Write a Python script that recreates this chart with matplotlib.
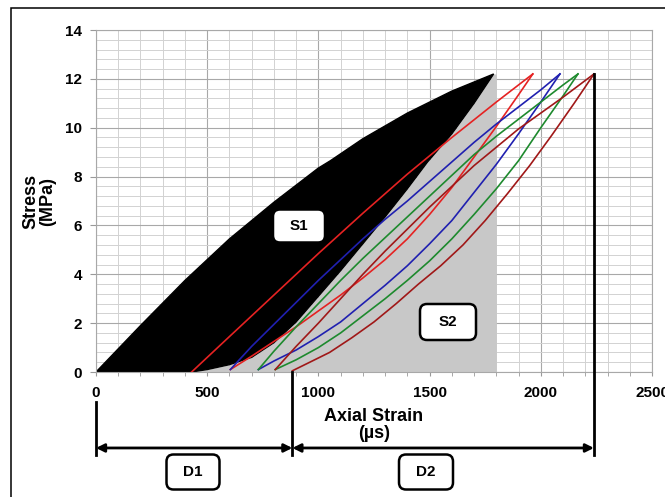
import matplotlib
matplotlib.use("Agg")
import matplotlib.pyplot as plt
import numpy as np
from matplotlib.patches import FancyBboxPatch, Rectangle
from matplotlib.transforms import IdentityTransform

plt.rcParams['font.family'] = ['Liberation Sans', 'DejaVu Sans']
plt.rcParams['font.weight'] = 'bold'

W, H = 665, 497

# ===== cycle data (axial strain in µs, stress in MPa) =====
# cycle 1 -> filled black loop
c1_load_x = [0, 200, 400, 600, 800, 1000, 1054, 1200, 1400, 1600, 1788]
c1_load_y = [0, 1.9, 3.75, 5.45, 6.95, 8.35, 8.65, 9.55, 10.6, 11.5, 12.2]
c1_unload_x = [1788, 1700, 1600, 1491, 1400, 1300, 1200, 1100, 1000, 900, 800,
               700, 600, 500, 430]
c1_unload_y = [12.2, 11.0, 9.75, 8.6, 7.5, 6.35, 5.25, 4.15, 3.1, 2.05, 1.2,
               0.6, 0.3, 0.1, 0]

red_load_x = [430, 600, 800, 1000, 1200, 1400, 1600, 1800, 1964]
red_load_y = [0, 1.45, 3.15, 4.85, 6.5, 8.1, 9.6, 11.05, 12.2]
red_unload_x = [1964, 1900, 1800, 1700, 1600, 1500, 1400, 1300, 1200, 1100,
                1000, 900, 800, 700, 604]
red_unload_y = [12.2, 11.35, 10.05, 8.8, 7.55, 6.45, 5.45, 4.6, 3.85, 3.15,
                2.5, 1.85, 1.25, 0.65, 0.1]

blue_load_x = [604, 700, 800, 900, 1000, 1100, 1200, 1300, 1400, 1500, 1600,
               1700, 1800, 1900, 2000, 2086]
blue_load_y = [0.1, 1.05, 1.95, 2.85, 3.75, 4.6, 5.45, 6.25, 7.0, 7.8, 8.6,
               9.4, 10.15, 10.85, 11.55, 12.2]
blue_unload_x = [2086, 2000, 1900, 1800, 1700, 1600, 1500, 1400, 1300, 1200,
                 1100, 1000, 900, 800, 730]
blue_unload_y = [12.2, 11.05, 9.75, 8.5, 7.35, 6.2, 5.25, 4.35, 3.55, 2.8,
                 2.05, 1.45, 0.9, 0.45, 0.1]

green_load_x = [730, 800, 900, 1000, 1100, 1200, 1300, 1400, 1500, 1600, 1700,
                1800, 1900, 2000, 2100, 2167]
green_load_y = [0.1, 0.85, 1.85, 2.8, 3.75, 4.65, 5.5, 6.35, 7.2, 8.05, 8.9,
                9.65, 10.35, 11.05, 11.75, 12.2]
green_unload_x = [2167, 2100, 2000, 1900, 1800, 1700, 1600, 1500, 1400, 1300,
                  1200, 1100, 1000, 900, 806]
green_unload_y = [12.2, 11.3, 10.0, 8.65, 7.5, 6.45, 5.45, 4.55, 3.75, 3.0,
                  2.3, 1.6, 1.0, 0.5, 0.1]

dred_load_x = [806, 900, 1000, 1100, 1200, 1300, 1400, 1500, 1600, 1700, 1800,
               1900, 2000, 2100, 2239]
dred_load_y = [0.1, 1.05, 2.0, 3.0, 4.0, 4.95, 5.85, 6.75, 7.6, 8.45, 9.2,
               9.95, 10.6, 11.25, 12.2]
dred_unload_x = [2239, 2150, 2050, 1950, 1850, 1750, 1650, 1550, 1450, 1350,
                 1250, 1150, 1050, 950, 883]
dred_unload_y = [12.2, 11.0, 9.7, 8.45, 7.3, 6.2, 5.2, 4.35, 3.6, 2.8,
                 2.05, 1.4, 0.8, 0.35, 0.05]

gray_right = 1800  # right edge of the S2 area

x_ticks = [0, 500, 1000, 1500, 2000, 2500]
y_ticks = [0, 2, 4, 6, 8, 10, 12, 14]

# ===== figure =====
fig = plt.figure(figsize=(W / 100, H / 100), dpi=100)
ax = fig.add_axes([96 / W, 1 - 372 / H, (652 - 96) / W, (372 - 30) / H])

ax.set_xlim(0, 2500)
ax.set_ylim(0, 14)
ax.set_xticks(x_ticks)
ax.set_yticks(y_ticks)
ax.set_xticks(np.arange(0, 2501, 100), minor=True)
ax.set_yticks(np.arange(0, 14.01, 0.4), minor=True)
ax.grid(which='minor', color='#d2d2d2', lw=0.7)
ax.grid(which='major', color='#a8a8a8', lw=0.8)
ax.set_axisbelow(True)

for s in ax.spines.values():
    s.set_color('#a8a8a8')
    s.set_linewidth(0.8)

ax.tick_params(axis='x', which='both', direction='out', length=3, color='#999999',
               labelsize=11, pad=7)
ax.tick_params(axis='y', which='major', direction='out', length=4, color='#999999',
               labelsize=11, pad=6)
ax.tick_params(axis='y', which='minor', length=0)

# S2 area under the first unloading branch
ax.fill_betweenx(c1_unload_y, c1_unload_x, gray_right, color='#c8c8c8', lw=0, zorder=1)

# S1 loop
loop_x = np.concatenate([c1_load_x, c1_unload_x])
loop_y = np.concatenate([c1_load_y, c1_unload_y])
ax.fill(loop_x, loop_y, color='black', lw=1, zorder=2)

cycles = [
    (red_load_x, red_load_y, red_unload_x, red_unload_y, '#e52222'),
    (blue_load_x, blue_load_y, blue_unload_x, blue_unload_y, '#2020b0'),
    (green_load_x, green_load_y, green_unload_x, green_unload_y, '#1e8a2e'),
    (dred_load_x, dred_load_y, dred_unload_x, dred_unload_y, '#a01818'),
]
for lx, ly, ux, uy, col in cycles:
    ax.plot(lx, ly, color=col, lw=1.2, zorder=3)
    ax.plot(ux, uy, color=col, lw=1.2, zorder=3)

# ===== dimension lines =====
d1_end = dred_unload_x[-1]
d2_end = dred_load_x[-1]
y_arrow = -3.11
y_low = -3.4
ax.plot([0, 0], [-1.23, y_low], color='black', lw=2, clip_on=False, zorder=4)
ax.plot([d1_end, d1_end], [0, y_low], color='black', lw=2, clip_on=False, zorder=4)
ax.plot([d2_end, d2_end], [dred_load_y[-1], y_low], color='black', lw=2,
        clip_on=False, zorder=4)
for a, b in [(0, d1_end), (d1_end, d2_end)]:
    ax.annotate('', xy=(b, y_arrow), xytext=(a, y_arrow), annotation_clip=False,
                arrowprops=dict(arrowstyle='<|-|>', color='black', lw=2,
                                mutation_scale=12, shrinkA=0, shrinkB=0))

# ===== axis labels =====
fig.text(39 / W, 1 - 201 / H, 'Stress\n(MPa)', rotation=90, ha='center', va='center',
         multialignment='center', fontsize=13, linespacing=1.0)
fig.text(374 / W, 1 - 425 / H, 'Axial Strain\n(µs)', ha='center', va='center',
         multialignment='center', fontsize=13, linespacing=1.05)


# ===== rounded label boxes (pixel positions) =====
def label_box(cx, cy, w, h, text):
    y = H - cy
    box = FancyBboxPatch((cx - w / 2, y - h / 2), w, h,
                         boxstyle='round,pad=0,rounding_size=7',
                         transform=IdentityTransform(), fc='white', ec='black',
                         lw=1.8, zorder=10)
    fig.add_artist(box)
    fig.text(cx / W, y / H, text, ha='center', va='center', fontsize=11, zorder=11)


label_box(299, 226, 52, 33, 'S1')
label_box(448, 322, 56, 36, 'S2')
label_box(193, 472, 53, 35, 'D1')
label_box(426, 472, 54, 35, 'D2')

# outer frame
fig.add_artist(Rectangle((11, -20), W + 10, H + 12, transform=IdentityTransform(),
                         fill=False, ec='black', lw=1.1))

fig.savefig('out.png', dpi=100)
